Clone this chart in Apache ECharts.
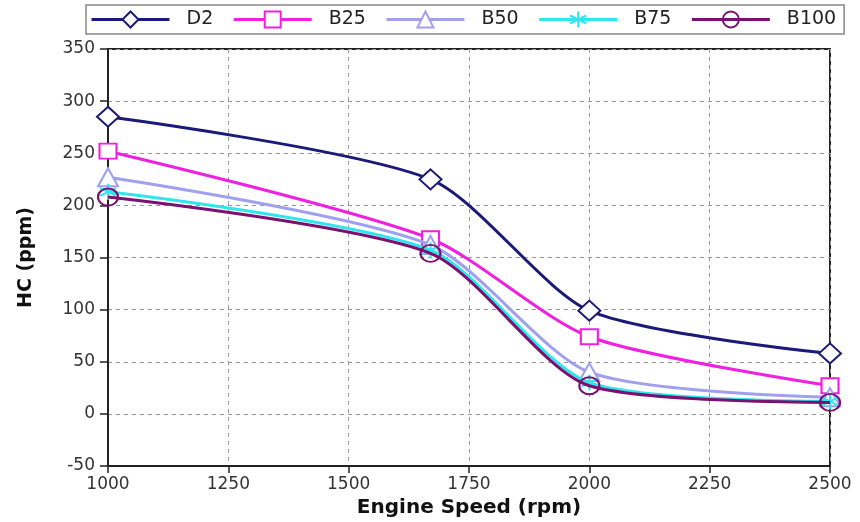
<!DOCTYPE html>
<html>
<head>
<meta charset="utf-8">
<title>HC emissions vs engine speed</title>
<script src="https://cdn.jsdelivr.net/npm/echarts@6/dist/echarts.min.js"></script>
<style>
  html, body { margin: 0; padding: 0; background: #fff; }
  #chart { width: 860px; height: 522px; }
</style>
</head>
<body>
<div id="chart"></div>
<script>
// Engine speeds (rpm) at which HC was measured
const speeds = [1000, 1670, 2000, 2500];

// HC emissions (ppm) per fuel blend
const hcD2   = [285, 225, 99, 58];
const hcB25  = [252, 168, 74, 27];
const hcB50  = [227, 162, 40, 16];
const hcB75  = [213, 157, 30, 12];
const hcB100 = [208, 154, 27, 11];

const seriesNames = ['D2', 'B25', 'B50', 'B75', 'B100'];
const seriesData = [hcD2, hcB25, hcB50, hcB75, hcB100];

// Axis ranges and tick steps
const xMin = 1000, xMax = 2500, xStep = 250;
const yMin = -50, yMax = 350, yStep = 50;

const FONT = '"DejaVu Sans", "Liberation Sans", Arial, sans-serif';

const styles = [
  { color: '#1c1a78', symbol: 'diamond', size: [22, 20], fill: '#ffffff' },
  { color: '#f020e0', symbol: 'rect', size: [17, 15], fill: '#ffffff' },
  { color: '#a0a0ee', symbol: 'triangle', size: [20, 18], fill: '#ffffff' },
  { color: '#30e6ee', symbol: 'path://M0,-10L0,10M-8.7,-5L8.7,5M-8.7,5L8.7,-5', size: [16, 16], fill: 'rgba(0,0,0,0)' },
  { color: '#7a1070', symbol: 'circle', size: [20, 17], fill: 'rgba(0,0,0,0)' }
];

const series = seriesNames.map((name, i) => ({
  name: name,
  type: 'line',
  smooth: 0.25,
  data: speeds.map((s, j) => [s, seriesData[i][j]]),
  symbol: styles[i].symbol,
  symbolSize: styles[i].size,
  lineStyle: { color: styles[i].color, width: 3 },
  itemStyle: {
    color: styles[i].fill,
    borderColor: styles[i].color,
    borderWidth: 2
  },
  emphasis: { disabled: true },
  z: 2 + i
}));

const chart = echarts.init(document.getElementById('chart'), null, { renderer: 'canvas' });

const axisLabelStyle = { fontSize: 17, color: '#333', fontFamily: FONT };

chart.setOption({
  animation: false,
  backgroundColor: '#ffffff',
  textStyle: { fontFamily: FONT },
  legend: {
    data: seriesNames,
    top: 5,
    left: 86,
    itemWidth: 78,
    itemHeight: 20,
    itemGap: 19,
    borderColor: '#888',
    borderWidth: 1.5,
    padding: [5, 8, 5, 4],
    lineStyle: { width: 3 },
    itemStyle: { borderWidth: 2 },
    textStyle: { fontSize: 19, color: '#222', fontFamily: FONT, padding: [0, 0, 0, 12] }
  },
  grid: {
    left: 108,
    right: 30,
    top: 49,
    bottom: 56,
    outerBoundsMode: 'none',
    containLabel: false,
    show: true,
    borderColor: '#222',
    borderWidth: 2,
    backgroundColor: 'transparent'
  },
  xAxis: {
    type: 'value',
    min: xMin,
    max: xMax,
    interval: xStep,
    name: 'Engine Speed (rpm)',
    nameLocation: 'middle',
    nameGap: 30,
    nameTextStyle: { fontSize: 20, fontWeight: 'bold', color: '#111', fontFamily: FONT },
    axisLine: { onZero: false, lineStyle: { color: '#222', width: 2 } },
    axisTick: { show: true, length: 7, lineStyle: { color: '#222', width: 1.5 } },
    axisLabel: Object.assign({ margin: 10, formatter: v => String(v) }, axisLabelStyle),
    splitLine: { show: true, lineStyle: { color: '#999', type: [4, 4], width: 1 } }
  },
  yAxis: {
    type: 'value',
    min: yMin,
    max: yMax,
    interval: yStep,
    name: 'HC (ppm)',
    nameLocation: 'middle',
    nameGap: 72,
    nameTextStyle: { fontSize: 19, fontWeight: 'bold', color: '#111', fontFamily: FONT },
    axisLine: { onZero: false, lineStyle: { color: '#222', width: 2 } },
    axisTick: { show: true, length: 8, lineStyle: { color: '#222', width: 1.5 } },
    axisLabel: Object.assign({ margin: 13, formatter: v => String(v) }, axisLabelStyle),
    splitLine: { show: true, lineStyle: { color: '#999', type: [4, 4], width: 1 } }
  },
  series: series
});
</script>
</body>
</html>
